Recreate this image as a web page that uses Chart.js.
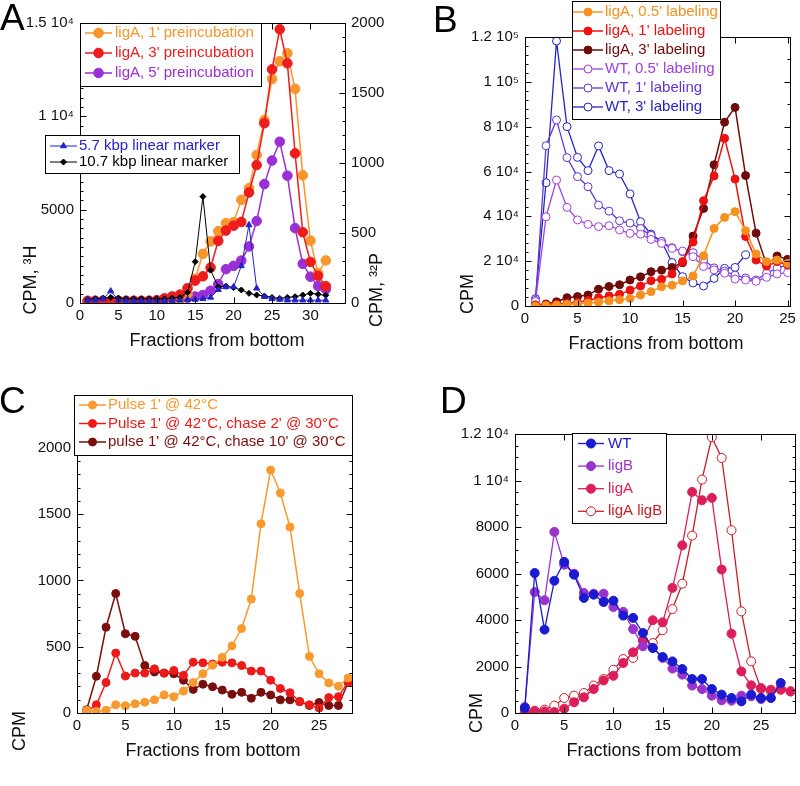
<!DOCTYPE html>
<html>
<head>
<meta charset="utf-8">
<script src="https://cdn.jsdelivr.net/npm/chart.js@4.4.1/dist/chart.umd.min.js"></script>
<style>
  body { margin: 0; background: #fff; width: 800px; height: 786px; position: relative; overflow: hidden; }
  canvas { position: absolute; }
  .letter { position: absolute; font: 37px/37px "Liberation Sans", Arial, sans-serif; color: #000; }
</style>
</head>
<body>
<canvas id="chartA" width="400" height="393" style="left:0;top:0"></canvas>
<canvas id="chartB" width="400" height="393" style="left:400px;top:0"></canvas>
<canvas id="chartC" width="400" height="393" style="left:0;top:393px"></canvas>
<canvas id="chartD" width="400" height="393" style="left:400px;top:393px"></canvas>
<div class="letter" style="left:0;top:-1px">A</div>
<div class="letter" style="left:433px;top:1px">B</div>
<div class="letter" style="left:-1px;top:382px">C</div>
<div class="letter" style="left:440px;top:382px">D</div>
<script>
Chart.defaults.font.family = '"Liberation Sans", Arial, Helvetica, sans-serif';
Chart.defaults.font.size = 15;
Chart.defaults.color = '#111';

// ---- panel A : preincubation (3H left, 32P right)
const fracA = [1,2,3,4,5,6,7,8,9,10,11,12,13,14,15,16,17,18,19,20,21,22,23,24,25,26,27,28,29,30,31,32];
const ligA1pre = [80,100,100,100,100,100,100,100,100,100,120,150,200,500,1300,2630,3300,3850,4280,4330,5530,6150,7930,9800,12000,12950,13380,11470,6840,3340,1600,2280];
const ligA3pre = [100,100,100,100,100,100,100,100,100,150,250,350,450,790,1200,1430,1900,3330,3880,4140,4340,5920,7390,9630,12520,14660,12840,8020,3790,2200,1450,900];
const ligA5pre = [120,120,120,120,120,120,120,120,120,120,120,120,180,280,350,430,660,1010,1810,1990,2270,3030,4390,6370,7630,8640,6820,4010,2100,1410,910,735];
const marker57 = [20,20,30,85,20,15,15,15,15,15,15,15,20,25,25,30,40,95,115,115,265,557,105,45,30,25,20,20,20,20,20,20];
const marker107 = [25,30,35,40,35,30,30,30,30,30,30,35,40,75,295,760,235,115,120,110,93,69,57,50,40,33,40,45,57,69,62,55];

// ---- panel B : labeling time
const fracB = [1,2,3,4,5,6,7,8,9,10,11,12,13,14,15,16,17,18,19,20,21,22,23,24,25];
const fracB3 = [1,2,3,4,5,6,7,8,9,10,11,12,13,14,15,16,17,18,19,20,21];
const ligA05 = [0,200,400,700,900,1300,1700,2300,2800,3400,4900,6400,8600,9300,11200,13400,22400,34600,39500,42100,33600,23200,19800,20500,19000];
const ligA1 = [300,600,800,1200,1600,2500,3700,4500,5200,7100,8900,11300,11900,14300,19800,28500,47000,58000,74800,56600,31000,20500,17800,19800,18300];
const ligA3 = [500,900,1900,3700,4200,4900,7500,8700,9500,11600,13000,15300,16000,17200,19300,31200,43500,63000,82000,88600,58200,32500,18300,22300,20800];
const wt05 = [2000,39800,56200,44000,38400,36400,35400,35800,33900,32400,32000,29700,27900,25700,24500,22000,17600,16100,14600,12000,11600,11000,12800,14300,14900];
const wt1 = [2500,71500,83000,66200,57700,53200,45000,42300,38000,37000,34600,31500,28800,26000,24200,23800,20600,17000,15500,13800,12500,11600,14600,16900,18300];
const wt3 = [3300,55000,118200,80000,66300,60400,71400,60400,58900,50000,37600,32100,28800,19400,13100,10300,8900,12300,16800,17200,22800];

// ---- panel C : pulse / chase
const fracC = [1,2,3,4,5,6,7,8,9,10,11,12,13,14,15,16,17,18,19,20,21,22,23,24,25,26,27,28];
const pulse42 = [20,12,20,62,54,69,81,99,136,123,165,230,296,360,420,506,637,859,1427,1832,1659,1402,901,427,296,227,202,264];
const chase2 = [12,62,230,452,279,301,301,333,301,321,284,383,378,370,383,378,358,316,316,247,185,153,86,62,37,116,123,235];
const chase10 = [25,277,647,901,598,578,358,309,301,296,247,178,217,198,173,141,156,111,156,136,99,99,86,57,79,57,57,230];

// ---- panel D : strains
const fracD = [1,2,3,4,5,6,7,8,9,10,11,12,13,14,15,16,17,18,19,20,21,22,23,24,25,26,27,28];
const wtD = [215,6020,3585,5690,6500,5950,4950,5090,4775,4830,4190,4090,3440,2800,2410,2220,1890,1460,1460,1030,790,645,500,790,645,645,1290];
const ligBD = [260,5200,4850,7790,6380,5990,5160,5130,5130,4560,4350,3610,2870,2800,2370,1910,1650,1180,1030,745,545,530,745,717,600];
const ligAD = [30,70,70,40,185,460,675,1030,1400,1600,2150,2610,3125,3990,3900,5380,7210,9510,9150,9250,6170,3410,1790,1190,1075,1000,1000,930];
const ligABD = [30,100,145,315,645,745,860,1180,1460,1860,2320,2370,3125,3010,3560,4470,5560,7630,10040,11860,10970,7860,4370,2220,1030,930,1075,930];

const SUP = {4: '\u2074', 5: '\u2075'};
function sciLabel(v) {
  if (v < 10000) return String(v);
  const e = Math.floor(Math.log10(v));
  const m = Math.round(v / Math.pow(10, e) * 10) / 10;
  return m + ' 10' + SUP[e];
}

function series(label, xs, ys, color, extra) {
  return Object.assign({
    label: label,
    data: ys.map((y, i) => ({x: xs[i], y: y})),
    borderColor: color,
    backgroundColor: color,
    pointBackgroundColor: color,
    pointBorderColor: color,
    borderWidth: 1.5,
    pointRadius: 4,
    pointBorderWidth: 1,
    pointStyle: 'circle',
    tension: 0
  }, extra || {});
}

// frame with inward ticks, boxed legends, extra titles
function decor(cfg) {
  return {
    id: 'decor',
    afterDatasetsDraw(chart) {
      const ctx = chart.ctx, a = chart.chartArea;
      const marks = (scale, major, minor) => {
        const out = [], step = minor || major;
        for (let i = Math.ceil(scale.min / step - 1e-9); i * step <= scale.max + 1e-9; i++) {
          const v = i * step;
          const isMajor = Math.abs(v / major - Math.round(v / major)) < 1e-6;
          out.push([Math.round(scale.getPixelForValue(v)) + 0.5, isMajor ? 6 : 3]);
        }
        return out;
      };
      const L = Math.round(a.left) + 0.5, R = Math.round(a.right) + 0.5;
      const T = Math.round(a.top) + 0.5, B = Math.round(a.bottom) + 0.5;
      ctx.save();
      ctx.strokeStyle = '#000';
      ctx.lineWidth = 1;
      ctx.beginPath();
      marks(chart.scales.x, cfg.x.major, cfg.x.minor).forEach(([p, l]) => {
        ctx.moveTo(p, B); ctx.lineTo(p, B - l);
        ctx.moveTo(p, T); ctx.lineTo(p, T + l);
      });
      marks(chart.scales[cfg.left.scale], cfg.left.major, cfg.left.minor).forEach(([p, l]) => {
        ctx.moveTo(L, p); ctx.lineTo(L + l, p);
      });
      marks(chart.scales[cfg.right.scale], cfg.right.major, cfg.right.minor).forEach(([p, l]) => {
        ctx.moveTo(R, p); ctx.lineTo(R - l, p);
      });
      ctx.stroke();
      ctx.strokeRect(L, T, R - L, B - T);
      ctx.restore();
    },
    afterDraw(chart) {
      const ctx = chart.ctx;
      (cfg.legends || []).forEach(b => {
        ctx.save();
        ctx.fillStyle = '#fff';
        ctx.fillRect(b.box[0], b.box[1], b.box[2] - b.box[0], b.box[3] - b.box[1]);
        ctx.strokeStyle = '#000';
        ctx.lineWidth = 1;
        ctx.strokeRect(b.box[0] + 0.5, b.box[1] + 0.5, b.box[2] - b.box[0], b.box[3] - b.box[1]);
        ctx.font = '15px "Liberation Sans", Arial, sans-serif';
        ctx.textBaseline = 'middle';
        ctx.textAlign = 'left';
        b.items.forEach((di, k) => {
          const ds = chart.data.datasets[di];
          const y = b.top + k * b.step;
          ctx.strokeStyle = ds.borderColor;
          ctx.lineWidth = ds.borderWidth;
          ctx.beginPath();
          ctx.moveTo(b.line[0], y);
          ctx.lineTo(b.line[1], y);
          ctx.stroke();
          ctx.fillStyle = ds.pointBackgroundColor;
          ctx.strokeStyle = ds.pointBorderColor;
          ctx.lineWidth = ds.pointBorderWidth;
          Chart.helpers.drawPoint(ctx, {pointStyle: ds.pointStyle, radius: ds.pointRadius, borderWidth: ds.pointBorderWidth, rotation: 0}, (b.line[0] + b.line[1]) / 2, y);
          ctx.fillStyle = ds.borderColor;
          ctx.fillText(ds.label, b.text, y);
        });
        ctx.restore();
      });
      (cfg.texts || []).forEach(t => {
        ctx.save();
        ctx.translate(t.x, t.y);
        ctx.rotate(t.rot || 0);
        ctx.font = (t.size || 18) + 'px "Liberation Sans", Arial, sans-serif';
        ctx.fillStyle = '#111';
        ctx.textAlign = 'center';
        ctx.textBaseline = 'middle';
        ctx.fillText(t.text, 0, 0);
        ctx.restore();
      });
    }
  };
}

// tick values from 0 in fixed steps, never the odd axis end
function fixedTicks(step) {
  return s => {
    const t = [];
    for (let i = 0; i * step <= s.max + 1e-9; i++) t.push({value: i * step});
    s.ticks = t;
  };
}
function xAxis(max, height) {
  return {
    type: 'linear', min: 0, max: max,
    grid: {display: false, drawTicks: false},
    border: {display: false},
    ticks: {autoSkip: false, maxRotation: 0, padding: 4},
    afterBuildTicks: fixedTicks(5),
    afterFit: s => { s.height = height; }
  };
}
function yAxis(max, step, top, width, pos) {
  return {
    type: 'linear', position: pos || 'left', min: 0, max: max,
    grid: {display: false, drawTicks: false},
    border: {display: false},
    ticks: {autoSkip: false, padding: 6, callback: v => (v <= top ? sciLabel(v) : '')},
    afterBuildTicks: fixedTicks(step),
    afterFit: s => { s.width = width; }
  };
}
const baseOpts = {
  responsive: false,
  animation: false,
  devicePixelRatio: 1,
  plugins: {legend: {display: false}, tooltip: {enabled: false}}
};

// ---------------- A
new Chart(document.getElementById('chartA'), {
  type: 'line',
  data: {
    datasets: [
      series('5.7 kbp linear marker', fracA, marker57, '#2323c8', {yAxisID: 'y2', borderWidth: 1, pointRadius: 3.5, pointStyle: 'triangle'}),
      series('10.7 kbp linear marker', fracA, marker107, '#000000', {yAxisID: 'y2', borderWidth: 1, pointRadius: 3, pointStyle: 'rectRot'}),
      series("ligA, 3' preincubation", fracA, ligA3pre, '#ee1c1c', {pointRadius: 4.8}),
      series("ligA, 1' preincubation", fracA, ligA1pre, '#f8952c', {pointRadius: 4.8}),
      series("ligA, 5' preincubation", fracA, ligA5pre, '#9a2fd6', {pointRadius: 4.8})
    ]
  },
  options: Object.assign({}, baseOpts, {
    layout: {padding: {top: 23, left: 0, right: 0, bottom: 0}},
    scales: {
      x: xAxis(34.5, 90),
      y: yAxis(15000, 5000, 15000, 80),
      y2: yAxis(2000, 500, 2000, 55, 'right')
    }
  }),
  plugins: [decor({
    x: {major: 5},
    left: {scale: 'y', major: 5000, minor: 500},
    right: {scale: 'y2', major: 500, minor: 100},
    legends: [
      {box: [80, 23, 261, 86], items: [3, 2, 4], top: 33, step: 20, line: [85, 112], text: 115},
      {box: [45, 135, 239, 173], items: [0, 1], top: 146, step: 16, line: [50, 77], text: 79}
    ],
    texts: [
      {text: 'Fractions from bottom', x: 217, y: 341},
      {text: 'CPM, \u00b3H', x: 31, y: 280, rot: -Math.PI / 2},
      {text: 'CPM, \u00b3\u00b2P', x: 377, y: 290, rot: -Math.PI / 2}
    ]
  })]
});

// ---------------- B
new Chart(document.getElementById('chartB'), {
  type: 'line',
  data: {
    datasets: [
      series("ligA, 0.5' labeling", fracB, ligA05, '#f7901e'),
      series("ligA, 1' labeling", fracB, ligA1, '#ee1111'),
      series("ligA, 3' labeling", fracB, ligA3, '#6e0b0b'),
      series("WT, 0.5' labeling", fracB, wt05, '#a040e0', {pointBackgroundColor: '#fff', borderWidth: 1.3}),
      series("WT, 1' labeling", fracB, wt1, '#6236d6', {pointBackgroundColor: '#fff', borderWidth: 1.3}),
      series("WT, 3' labeling", fracB3, wt3, '#2424c4', {pointBackgroundColor: '#fff', borderWidth: 1.3})
    ]
  },
  options: Object.assign({}, baseOpts, {
    layout: {padding: {top: 37, left: 0, right: 8, bottom: 0}},
    scales: {
      x: xAxis(25.2, 87),
      y: yAxis(120000, 20000, 120000, 125)
    }
  }),
  plugins: [decor({
    x: {major: 5},
    left: {scale: 'y', major: 20000, minor: 4000},
    right: {scale: 'y', major: 20000, minor: 10000},
    legends: [
      {box: [172, 1, 320, 119], items: [0, 1, 2, 3, 4, 5], top: 12, step: 19, line: [173, 203], text: 205}
    ],
    texts: [
      {text: 'Fractions from bottom', x: 256, y: 344},
      {text: 'CPM', x: 68, y: 294, rot: -Math.PI / 2}
    ]
  })]
});

// ---------------- C
new Chart(document.getElementById('chartC'), {
  type: 'line',
  data: {
    datasets: [
      series("Pulse 1' @ 42\u00b0C", fracC, pulse42, '#f9992e'),
      series("Pulse 1' @ 42\u00b0C, chase 2' @ 30\u00b0C", fracC, chase2, '#ee1a1a'),
      series("pulse 1' @ 42\u00b0C, chase 10' @ 30\u00b0C", fracC, chase10, '#7a0e0e')
    ]
  },
  options: Object.assign({}, baseOpts, {
    layout: {padding: {top: 10, left: 0, right: 48, bottom: 0}},
    scales: {
      x: xAxis(28.4, 73),
      y: yAxis(2300, 500, 2000, 77)
    }
  }),
  plugins: [decor({
    x: {major: 5},
    left: {scale: 'y', major: 500, minor: 100},
    right: {scale: 'y', major: 500, minor: 100},
    legends: [
      {box: [74, 2, 352, 62], items: [0, 1, 2], top: 12, step: 18.5, line: [79, 106], text: 108}
    ],
    texts: [
      {text: 'Fractions from bottom', x: 213, y: 358},
      {text: 'CPM', x: 20, y: 338, rot: -Math.PI / 2}
    ]
  })]
});

// ---------------- D
new Chart(document.getElementById('chartD'), {
  type: 'line',
  data: {
    datasets: [
      series('WT', fracD, wtD, '#1a1ad0', {pointRadius: 4.5, borderWidth: 1.3}),
      series('ligB', fracD, ligBD, '#9a33cc', {pointRadius: 4.5, borderWidth: 1.3}),
      series('ligA', fracD, ligAD, '#dc1e5a', {pointRadius: 4.5, borderWidth: 1.3}),
      series('ligA ligB', fracD, ligABD, '#c81e28', {pointRadius: 4.5, borderWidth: 1.3, pointBackgroundColor: '#fff'})
    ]
  },
  options: Object.assign({}, baseOpts, {
    layout: {padding: {top: 41, left: 0, right: 3, bottom: 0}},
    scales: {
      x: xAxis(28.4, 73),
      y: yAxis(12000, 2000, 12000, 115)
    }
  }),
  plugins: [decor({
    x: {major: 5},
    left: {scale: 'y', major: 2000, minor: 500},
    right: {scale: 'y', major: 2000, minor: 500},
    legends: [
      {box: [172, 40, 266, 130], items: [0, 1, 2, 3], top: 50.5, step: 22.6, line: [178, 204], text: 208}
    ],
    texts: [
      {text: 'Fractions from bottom', x: 254, y: 358},
      {text: 'CPM', x: 77, y: 320, rot: -Math.PI / 2}
    ]
  })]
});
</script>
</body>
</html>
